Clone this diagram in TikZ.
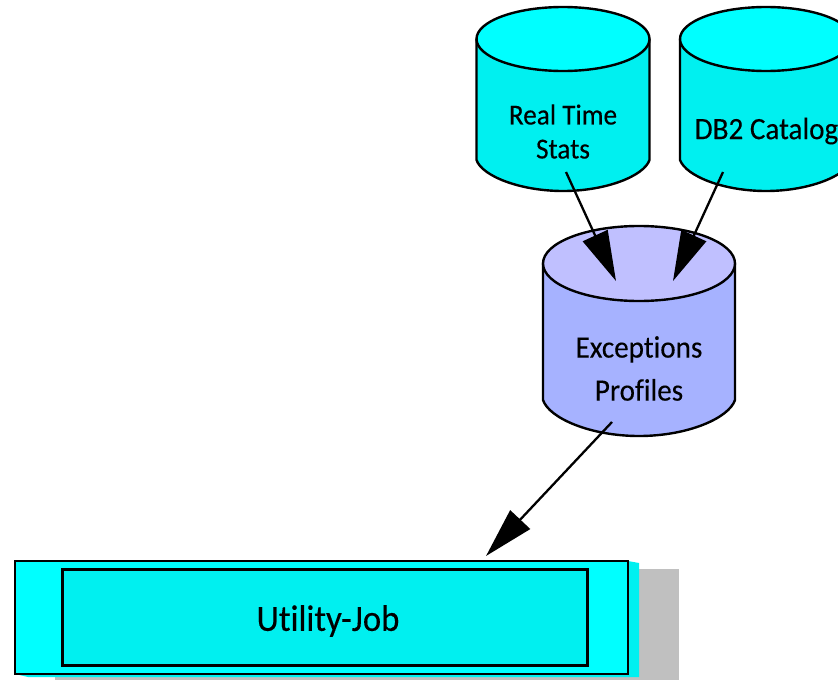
\documentclass[tikz,border=0pt]{standalone}
\usepackage{fontspec}
\setmainfont[Ligatures=NoCommon,FakeStretch=0.94,FakeBold=0.25]{Carlito}
\usetikzlibrary{arrows.meta}
\definecolor{cyanA}{HTML}{00FFFF}
\definecolor{cyanB}{HTML}{00F0F0}
\definecolor{blueA}{HTML}{C0C0FF}
\definecolor{blueB}{HTML}{A6B2FF}
\definecolor{shadowgray}{HTML}{C0C0C0}
\tikzset{
  x=1pt,y=-1pt,
  cyloutline/.style={draw=black,line width=2.4pt,line join=round},
  txt/.style={font=\fontsize{29}{34}\selectfont,text=black,align=center,inner sep=0pt},
  conn/.style={draw=black,line width=2.3pt,-{Triangle[length=50pt,width=27pt,fill=black]}},
}
\begin{document}
\begin{tikzpicture}
\useasboundingbox (0,0) rectangle (838,680);
\clip (0,0) rectangle (838,680);
% cylinders
\path[cyloutline,fill=cyanB] (476.5,39) -- (476.5,160) .. controls (482,176) and (520,191) .. (563,191) .. controls (606,191) and (644,176) .. (649.5,160) -- (649.5,39) -- cycle;
\path[cyloutline,fill=cyanA] (563,39) ellipse [x radius=86.5,y radius=32];
\path[cyloutline,fill=cyanB] (680,39) -- (680,160) .. controls (686,176) and (723,191) .. (766,191) .. controls (809,191) and (846,176) .. (852,160) -- (852,39) -- cycle;
\path[cyloutline,fill=cyanA] (766,39) ellipse [x radius=86,y radius=32];
\path[cyloutline,fill=blueB] (543,263) -- (543,400) .. controls (549,418) and (590,436) .. (639,436) .. controls (688,436) and (729,418) .. (735,400) -- (735,263) -- cycle;
\path[cyloutline,fill=blueA] (639,263.5) ellipse [x radius=96,y radius=37.5];
% job box
\fill[shadowgray] (55,569) rectangle (679,680);
\fill[cyanB] (20,563) -- (628,561) -- (639,563) -- (639,677) -- (28,677) -- (15,674) -- cycle;
\path[draw=black,line width=2.4pt,fill=cyanA] (15,561) rectangle (628,674);
\node[draw=black,line width=3.2pt,fill=cyanB,minimum width=525pt,minimum height=96pt,inner sep=0pt,anchor=north west] (job) at (61,567.5) {};
% labels
\node[txt] (rts) at (563,131.5) {Real Time\\Stats};
\node[txt,font=\fontsize{31}{34}\selectfont] (db2) at (766.5,131) {DB2 Catalog};
\node[txt,font=\fontsize{31}{43}\selectfont] (exc) at (639,368.5) {Exceptions\\Profiles};
\node[txt,font=\fontsize{37}{42}\selectfont] (util) at (328,621) {Utility-Job};
% connectors
\coordinate (a1) at (566,172); \coordinate (a2) at (616,281);
\coordinate (b1) at (723,172); \coordinate (b2) at (673,281);
\coordinate (c1) at (612,422); \coordinate (c2) at (486,556);
\draw[conn] (a1) -- (a2);
\draw[conn] (b1) -- (b2);
\draw[conn] (c1) -- (c2);
\end{tikzpicture}
\end{document}
